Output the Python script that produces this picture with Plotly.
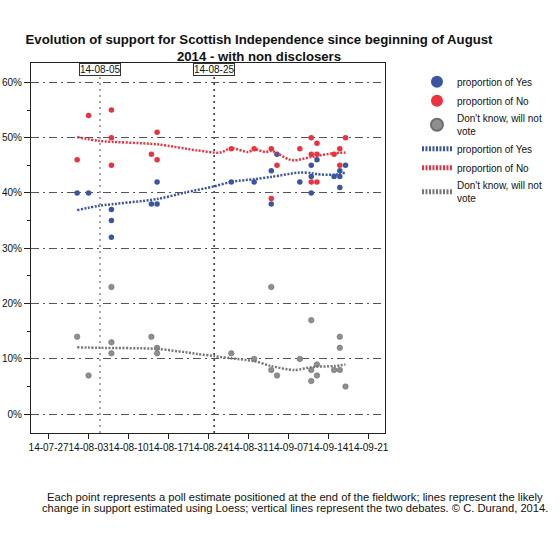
import plotly.graph_objects as go

# ---------------- data ----------------
yes_dates = ["2014-08-01", "2014-08-03", "2014-08-07", "2014-08-07", "2014-08-07",
             "2014-08-14", "2014-08-15", "2014-08-15", "2014-08-28", "2014-09-01",
             "2014-09-04", "2014-09-04", "2014-09-05", "2014-09-09", "2014-09-11",
             "2014-09-11", "2014-09-11", "2014-09-12", "2014-09-15", "2014-09-16",
             "2014-09-16", "2014-09-16", "2014-09-17"]
yes_vals = [40, 40, 37, 35, 32, 38, 42, 38, 42, 42, 44, 38, 47, 42, 45, 43, 40, 46, 43, 44, 43, 41, 45]

no_dates = ["2014-08-01", "2014-08-03", "2014-08-07", "2014-08-07", "2014-08-07",
            "2014-08-14", "2014-08-15", "2014-08-15", "2014-08-28", "2014-09-01",
            "2014-09-04", "2014-09-04", "2014-09-05", "2014-09-09", "2014-09-11",
            "2014-09-11", "2014-09-11", "2014-09-12", "2014-09-12", "2014-09-12",
            "2014-09-15", "2014-09-16", "2014-09-16", "2014-09-17"]
no_vals = [46, 54, 55, 50, 45, 47, 51, 46, 48, 48, 48, 39, 45, 48, 50, 47, 42, 49, 47, 42, 47, 48, 45, 50]

dk_dates = ["2014-08-01", "2014-08-03", "2014-08-07", "2014-08-07", "2014-08-07",
            "2014-08-14", "2014-08-15", "2014-08-15", "2014-08-28", "2014-09-01",
            "2014-09-04", "2014-09-04", "2014-09-05", "2014-09-09", "2014-09-11",
            "2014-09-11", "2014-09-11", "2014-09-12", "2014-09-12", "2014-09-15",
            "2014-09-16", "2014-09-16", "2014-09-16", "2014-09-17"]
dk_vals = [14, 7, 23, 13, 11, 14, 12, 11, 11, 10, 23, 8, 7, 10, 17, 8, 6, 9, 7, 8, 14, 12, 8, 5]

# Loess curves
yes_fit_dates = ["2014-08-01", "2014-08-05", "2014-08-15", "2014-08-20", "2014-08-25",
                 "2014-08-28", "2014-09-01", "2014-09-04", "2014-09-09", "2014-09-11",
                 "2014-09-12", "2014-09-15", "2014-09-17"]
yes_fit = [36.9, 37.7, 38.9, 40.1, 41.2, 42.0, 42.5, 42.9, 43.7, 43.6, 43.4, 43.3, 43.7]

no_fit_dates = ["2014-08-01", "2014-08-05", "2014-08-15", "2014-08-22", "2014-08-26",
                "2014-08-28", "2014-08-31", "2014-09-01", "2014-09-03", "2014-09-04",
                "2014-09-05", "2014-09-07", "2014-09-08", "2014-09-11", "2014-09-15",
                "2014-09-17"]
no_fit = [50.1, 49.4, 48.8, 47.7, 47.3, 48.1, 47.4, 47.9, 47.4, 47.6, 47.2, 46.1, 45.9, 46.5, 47.2, 47.3]

dk_fit_dates = ["2014-08-01", "2014-08-05", "2014-08-15", "2014-08-22", "2014-08-25",
                "2014-08-28", "2014-09-01", "2014-09-04", "2014-09-08", "2014-09-11",
                "2014-09-12", "2014-09-15", "2014-09-17"]
dk_fit = [12.1, 12.0, 11.8, 10.9, 10.5, 10.1, 9.6, 8.7, 8.0, 8.5, 8.6, 8.7, 9.0]

debate_dates = ["2014-08-05", "2014-08-25"]
debate_labels = ["14-08-05", "14-08-25"]
debate_colors = ["#8a8a8a", "#333333"]

y_ticks = [0, 10, 20, 30, 40, 50, 60]
y_ticktext = ["0%", "10%", "20%", "30%", "40%", "50%", "60%"]

title_text = ("<b>Evolution of support for Scottish Independence since beginning of August"
              "<br>2014 - with non disclosers</b>")
footer_lines = [
    "Each point represents a poll estimate positioned at the end of the fieldwork; lines represent the likely",
    "change in support estimated using Loess; vertical lines represent the two debates. © C. Durand, 2014.",
]

BLUE = "#3a55a6"
RED = "#ee323d"
GRAY = "#8f8f8f"
FONT = "Liberation Sans, Arial, sans-serif"

# ---- geometry (figure pixels) ----
W, H = 560, 545
PL, PR, PT, PB = 30.7, 385.0, 63.3, 432.7   # plot area edges
PW, PH = PR - PL, PB - PT


def px_x(fx):
    return (fx - PL) / PW


def px_y(fy):
    return (PB - fy) / PH


fig = go.Figure()

fig.add_trace(go.Scatter(x=yes_dates, y=yes_vals, mode="markers", name="proportion of Yes",
                         marker=dict(color=BLUE, size=5.5)))
fig.add_trace(go.Scatter(x=no_dates, y=no_vals, mode="markers", name="proportion of No",
                         marker=dict(color=RED, size=5.5)))
fig.add_trace(go.Scatter(x=dk_dates, y=dk_vals, mode="markers", name="Don't know, will not<br>vote",
                         marker=dict(color=GRAY, size=5.5, line=dict(color="#6e6e6e", width=0.6))))
fig.add_trace(go.Scatter(x=yes_fit_dates, y=yes_fit, mode="lines", name="proportion of Yes",
                         line=dict(color=BLUE, width=2.5, dash="2px,1.5px", shape="spline", smoothing=0.8)))
fig.add_trace(go.Scatter(x=no_fit_dates, y=no_fit, mode="lines", name="proportion of No",
                         line=dict(color=RED, width=2.5, dash="2px,1.5px", shape="spline", smoothing=0.8)))
fig.add_trace(go.Scatter(x=dk_fit_dates, y=dk_fit, mode="lines", name="Don't know, will not<br>vote",
                         line=dict(color="#777777", width=2.5, dash="2px,1.5px", shape="spline", smoothing=0.8)))

shapes = []
annotations = []
for d, lab, c in zip(debate_dates, debate_labels, debate_colors):
    shapes.append(dict(type="line", xref="x", yref="paper", x0=d, x1=d, y0=0, y1=1,
                       line=dict(color=c, width=1.5, dash="2px,4px"), layer="below"))
    annotations.append(dict(x=d, y=1, xref="x", yref="paper", text=lab, showarrow=False,
                            xanchor="center", yanchor="top", bgcolor="white",
                            bordercolor="#333", borderwidth=1, borderpad=0,
                            font=dict(family=FONT, size=10, color="#111")))

for i, line in enumerate(footer_lines):
    annotations.append(dict(x=px_x(294.5), y=px_y(497 + 11 * i), xref="paper", yref="paper",
                            text=line, showarrow=False, xanchor="center", yanchor="middle",
                            font=dict(family=FONT, size=11.2, color="#111")))

fig.update_layout(
    width=W, height=H,
    margin=dict(l=PL, r=W - PR, t=PT, b=H - PB),
    paper_bgcolor="white", plot_bgcolor="white",
    font=dict(family=FONT, size=10, color="#111"),
    title=dict(text=title_text, x=259 / W, xanchor="center", xref="container",
               y=1 - 44 / H, yanchor="middle", yref="container",
               font=dict(family=FONT, size=13.2, color="#111")),
    showlegend=True,
    legend=dict(x=px_x(417), xanchor="left", y=px_y(67.5), yanchor="top", itemsizing="constant",
                font=dict(family=FONT, size=10, color="#111"), tracegroupgap=0,
                bgcolor="rgba(0,0,0,0)"),
    xaxis=dict(type="date", range=["2014-07-23 22:00", "2014-09-23 22:00"],
               tick0="2014-07-27", dtick=7 * 86400000, tickformat="%y-%m-%d", tickangle=0,
               ticks="outside", ticklen=5, tickcolor="#222", showgrid=False,
               showline=True, linecolor="#222", linewidth=1, mirror=True, automargin=False,
               tickfont=dict(family=FONT, size=10, color="#111"), zeroline=False),
    yaxis=dict(range=[-3.4, 63.5], tickvals=y_ticks, ticktext=y_ticktext,
               ticks="outside", ticklen=6, tickcolor="#222", ticklabelstandoff=0,
               minor=dict(dtick=5, ticks="outside", ticklen=3, tickcolor="#222", showgrid=False),
               showgrid=True, gridcolor="#555", gridwidth=1.3, griddash="8px,4px,2px,4px",
               showline=True, linecolor="#222", linewidth=1, mirror=True, zeroline=False,
               automargin=False, tickfont=dict(family=FONT, size=10, color="#111")),
    yaxis2=dict(range=[-3.4, 63.5], overlaying="y", side="right", tickvals=y_ticks, ticktext=y_ticktext,
                ticks="outside", ticklen=6, tickcolor="#222",
                minor=dict(dtick=1, ticks="outside", ticklen=3, tickcolor="#222", showgrid=False),
                showgrid=False, showline=False, zeroline=False, automargin=False,
                tickfont=dict(family=FONT, size=10, color="#111")),
    shapes=shapes,
    annotations=annotations,
)

fig.write_html("out.html", config={"displayModeBar": False},
               post_script="document.body.style.margin='0';")
